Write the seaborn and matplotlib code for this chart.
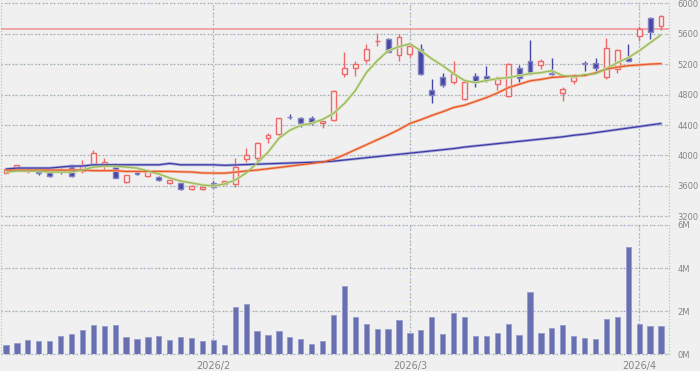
import numpy as np
import pandas as pd
import matplotlib
matplotlib.use('Agg')
import matplotlib.pyplot as plt
import seaborn as sns

# trading days 2026/1/5 - 2026/4/3 (TSE holidays removed)
holidays = ['2026-01-12', '2026-02-11', '2026-02-23', '2026-03-20']
dates = pd.bdate_range('2026-01-05', '2026-04-03', freq='C', holidays=holidays)

opens = [3775, 3835, 3790, 3800, 3790, 3810, 3870, 3795, 3875, 3870,
         3850, 3650, 3780, 3730, 3720, 3640, 3640, 3565, 3555, 3640,
         3620, 3625, 3955, 3965, 4225, 4280, 4505, 4490, 4490, 4420,
         4460, 5075, 5155, 5260, 5500, 5530, 5325, 5340, 5400, 4865,
         5025, 4970, 4740, 5050, 5050, 4945, 4775, 5155, 5245, 5185,
         5090, 4815, 4985, 5210, 5220, 5025, 5140, 5285, 5575, 5810,
         5705]
highs = [3830, 3880, 3840, 3810, 3800, 3830, 3880, 3940, 4070, 3960,
         3900, 3745, 3790, 3820, 3730, 3685, 3650, 3610, 3600, 3660,
         3670, 3960, 4095, 4175, 4290, 4495, 4540, 4500, 4520, 4455,
         4855, 5365, 5235, 5470, 5610, 5540, 5600, 5480, 5470, 5000,
         5090, 5245, 4965, 5090, 5170, 5050, 5215, 5190, 5520, 5270,
         5285, 4905, 5075, 5245, 5285, 5545, 5395, 5470, 5705, 5825,
         5840]
lows = [3765, 3830, 3770, 3740, 3720, 3760, 3720, 3770, 3860, 3810,
        3700, 3640, 3740, 3720, 3660, 3625, 3550, 3550, 3545, 3570,
        3610, 3590, 3915, 3915, 4160, 4275, 4475, 4370, 4400, 4360,
        4455, 5025, 5040, 5220, 5440, 5360, 5245, 5300, 5060, 4685,
        4905, 4945, 4730, 4905, 4960, 4855, 4770, 4960, 5075, 5130,
        5060, 4710, 4945, 5115, 5115, 5010, 5090, 5240, 5505, 5535,
        5650]
closes = [3825, 3870, 3810, 3770, 3730, 3790, 3730, 3870, 4030, 3920,
          3710, 3740, 3750, 3800, 3680, 3675, 3560, 3600, 3590, 3580,
          3660, 3850, 4005, 4160, 4265, 4490, 4500, 4420, 4430, 4450,
          4850, 5155, 5205, 5400, 5510, 5365, 5560, 5440, 5075, 4800,
          4930, 5065, 4960, 4960, 5010, 5010, 5205, 5020, 5075, 5235,
          5065, 4880, 5025, 5200, 5155, 5415, 5390, 5245, 5665, 5625,
          5835]

# volume in millions of shares
volume_m = [0.43, 0.52, 0.66, 0.61, 0.61, 0.85, 0.93, 1.11, 1.37, 1.30,
            1.37, 0.78, 0.73, 0.82, 0.85, 0.66, 0.82, 0.75, 0.61, 0.66,
            0.43, 2.21, 2.35, 1.07, 0.90, 1.07, 0.82, 0.70, 0.47, 0.61,
            1.83, 3.19, 1.75, 1.42, 1.16, 1.16, 1.58, 0.98, 1.12, 1.71,
            0.93, 1.93, 1.71, 0.86, 0.86, 0.98, 1.42, 0.89, 2.91, 0.98,
            1.24, 1.36, 0.83, 0.75, 0.70, 1.62, 1.71, 4.96, 1.42, 1.30,
            1.30]

# moving averages as drawn (5 / 25 / 75 day)
ma5 = [3782, 3795, 3795, 3795, 3782, 3782, 3782, 3808, 3847, 3860,
       3860, 3847, 3834, 3795, 3756, 3703, 3664, 3638, 3612, 3599,
       3625, 3677, 3769, 3899, 4043, 4226, 4331, 4396, 4422, 4474,
       4553, 4683, 4853, 5088, 5245, 5376, 5429, 5468, 5376, 5271,
       5180, 5075, 4984, 4958, 4984, 5010, 5023, 5049, 5075, 5088,
       5114, 5049, 5036, 5062, 5075, 5141, 5220, 5285, 5376, 5481,
       5585]
ma25 = [3808, 3808, 3808, 3808, 3808, 3808, 3808, 3808, 3800, 3800,
        3800, 3790, 3790, 3790, 3790, 3790, 3785, 3782, 3770, 3768,
        3767, 3780, 3795, 3808, 3825, 3842, 3860, 3878, 3895, 3913,
        3948, 4010, 4075, 4140, 4205, 4270, 4340, 4420, 4470, 4525,
        4575, 4630, 4660, 4710, 4760, 4820, 4890, 4935, 4980, 5000,
        5025, 5035, 5045, 5050, 5085, 5135, 5160, 5180, 5190, 5200,
        5207]
ma75 = [3821, 3834, 3834, 3834, 3834, 3847, 3860, 3860, 3877, 3877,
        3877, 3877, 3877, 3877, 3877, 3895, 3877, 3877, 3877, 3877,
        3870, 3875, 3880, 3885, 3890, 3895, 3900, 3905, 3910, 3915,
        3925, 3940, 3955, 3970, 3985, 4000, 4015, 4030, 4045, 4060,
        4075, 4090, 4110, 4125, 4140, 4155, 4170, 4185, 4200, 4215,
        4230, 4245, 4265, 4280, 4300, 4320, 4340, 4360, 4380, 4400,
        4420]

ref_high = 5660
price_ticks = [3200, 3600, 4000, 4400, 4800, 5200, 5600, 6000]
vol_ticks = [0, 2, 4, 6]

df = pd.DataFrame({'date': dates, 'open': opens, 'high': highs, 'low': lows,
                   'close': closes, 'volume': np.array(volume_m) * 1e6,
                   'ma5': ma5, 'ma25': ma25, 'ma75': ma75})
df['idx'] = np.arange(len(df))
month_pos = df.index[df['date'].dt.month != df['date'].dt.month.shift(1)][1:]
month_lbl = [f"{d.year}/{d.month}" for d in df['date'][month_pos]]

sns.set_style('white')
plt.rcParams['font.family'] = ['DejaVu Sans']

bg = '#f0f0f0'
up_col = '#f06868'
dn_col = '#4646a6'
grid_blue = '#9a9ccc'
grid_green = '#b4d48c'
lbl_col = '#858585'

fig = plt.figure(figsize=(7, 3.71), dpi=100, facecolor=bg)
ax_p = fig.add_axes([1 / 700, 1 - 216.3 / 371, 668 / 700, 213 / 371])
ax_v = fig.add_axes([1 / 700, 1 - 354.3 / 371, 668 / 700, 129.3 / 371])
xlim = (-0.46, 60.73)


def dotted_grid(ax, hlevels, vlevels):
    for lv in hlevels:
        ax.axhline(lv, color=grid_blue, lw=0.9, ls=(0, (1, 2)), zorder=0, clip_on=False)
        ax.axhline(lv, color=grid_green, lw=0.9, ls=(1.5, (1, 5)), zorder=0, clip_on=False)
    for lv in vlevels:
        ax.axvline(lv, color=grid_blue, lw=0.9, ls=(0, (1, 2)), zorder=0)
        ax.axvline(lv, color=grid_green, lw=0.9, ls=(1.5, (1, 5)), zorder=0)
    for lv in xlim:
        ax.axvline(lv, color=grid_green, lw=0.9, ls=(0, (1, 1.5)), zorder=0, clip_on=False)


for ax in (ax_p, ax_v):
    ax.set_facecolor(bg)
    for s in ax.spines.values():
        s.set_visible(False)

# price panel
dotted_grid(ax_p, price_ticks, month_pos)
ax_p.axhline(ref_high, color='#f09090', lw=1.1, zorder=1)

for r in df.itertuples():
    up = r.close >= r.open
    col = up_col if up else dn_col
    ax_p.vlines(r.idx, r.low, r.high, color=col, lw=1, zorder=3)
    body = max(abs(r.close - r.open), 6)
    ax_p.bar(r.idx, body, bottom=min(r.open, r.close), width=0.45,
             facecolor=bg if up else dn_col,
             edgecolor=up_col if up else '#8484c4', linewidth=1, zorder=4)

for col, dark, light in [('ma75', '#3c3ca8', '#aaaad8'),
                         ('ma25', '#e65a2c', '#f4b092'),
                         ('ma5', '#9cb85e', '#d0e2a8')]:
    sns.lineplot(data=df, x='idx', y=col, ax=ax_p, color=light, lw=2.0, zorder=5)
    sns.lineplot(data=df, x='idx', y=col, ax=ax_p, color=dark, lw=0.9, zorder=6)

ax_p.set_xlim(xlim)
ax_p.set_ylim(3200, 6000)
ax_p.yaxis.tick_right()
ax_p.set_yticks(price_ticks)
ax_p.set_yticklabels([str(t) for t in price_ticks])
ax_p.tick_params(axis='y', length=0, pad=6, labelsize=6.0, labelcolor=lbl_col)
ax_p.set_xticks([])
ax_p.set_xlabel('')
ax_p.set_ylabel('')

# volume panel
dotted_grid(ax_v, [v * 1e6 for v in vol_ticks], month_pos)
sns.barplot(data=df, x='idx', y='volume', ax=ax_v, native_scale=True, width=0.48,
            color='#6870b2', saturation=1, edgecolor='#9aa0cc', linewidth=0.7,
            errorbar=None, zorder=3)
ax_v.set_xlim(xlim)
ax_v.set_ylim(0, 6e6)
ax_v.yaxis.tick_right()
ax_v.set_yticks([v * 1e6 for v in vol_ticks])
ax_v.set_yticklabels([f"{v}M" for v in vol_ticks])
ax_v.tick_params(axis='y', length=0, pad=6, labelsize=6.0, labelcolor=lbl_col)
ax_v.set_xticks(list(month_pos))
ax_v.set_xticklabels(month_lbl)
ax_v.tick_params(axis='x', length=0, pad=5, labelsize=7, labelcolor=lbl_col)
ax_v.set_xlabel('')
ax_v.set_ylabel('')

fig.savefig('out.png', dpi=100, facecolor=bg)
